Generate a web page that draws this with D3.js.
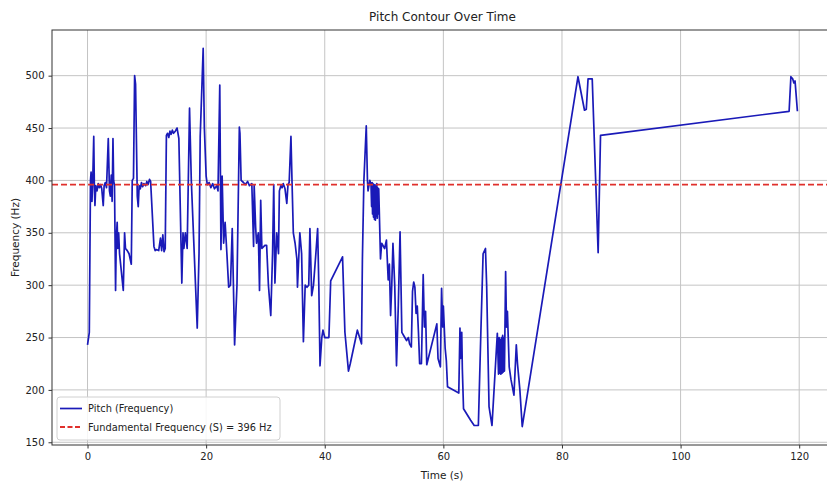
<!DOCTYPE html>
<html>
<head>
<meta charset="utf-8">
<script src="https://cdn.jsdelivr.net/npm/d3@7"></script>
<style>
  body { margin: 0; background: #fff; }
  text { font-family: "DejaVu Sans", sans-serif; fill: #222; }
</style>
</head>
<body>
<svg id="chart"></svg>
<script>
// [time (s), pitch (Hz)]
const contour = [
  [0.0, 243], [0.3, 255], [0.5, 400], [0.6, 408], [0.75, 380], [0.9, 405], [1.05, 442], [1.15, 395], [1.25, 376], [1.4, 395],
  [1.6, 390], [1.8, 397], [2.0, 393], [2.2, 396], [2.4, 392], [2.65, 376], [2.8, 395], [3.0, 398], [3.2, 393], [3.5, 440],
  [3.7, 390], [3.85, 385], [4.0, 405], [4.15, 380], [4.29, 440], [4.4, 400], [4.55, 395], [4.73, 295], [4.85, 345], [5.0, 360],
  [5.1, 335], [5.25, 350], [5.4, 330], [6.03, 295], [6.25, 350], [6.4, 335], [6.7, 333], [7.0, 330], [7.38, 320], [7.54, 400],
  [7.75, 402], [7.94, 500], [8.1, 492], [8.39, 385], [8.55, 375], [8.7, 395], [8.9, 392], [9.1, 398], [9.3, 394], [9.5, 397],
  [9.8, 395], [10.0, 399], [10.2, 396], [10.45, 401], [10.64, 399], [11.2, 337], [11.4, 333], [11.6, 334], [12.0, 333], [12.3, 345],
  [12.5, 333], [12.7, 348], [12.9, 332], [13.1, 335], [13.3, 443], [13.5, 445], [13.7, 441], [13.9, 447], [14.1, 444], [14.3, 448],
  [14.5, 445], [14.8, 447], [15.1, 450], [15.4, 440], [15.9, 302], [16.1, 350], [16.25, 335], [16.5, 350], [16.8, 335], [17.2, 469],
  [17.5, 400], [18.5, 259], [18.8, 330], [19.0, 442], [19.5, 526], [19.7, 450], [20.0, 404], [20.2, 396], [20.5, 398], [20.8, 393],
  [21.1, 397], [21.4, 392], [21.8, 395], [22.0, 390], [22.3, 491], [22.5, 334], [22.7, 404], [22.95, 340], [23.2, 360], [23.5, 330],
  [23.8, 298], [24.1, 300], [24.4, 354], [24.6, 300], [24.8, 243], [25.2, 300], [25.6, 451], [25.7, 445], [25.9, 400], [26.3, 398],
  [26.6, 396], [27.0, 399], [27.3, 395], [27.7, 397], [28.0, 337], [28.1, 395], [28.35, 355], [28.5, 340], [28.8, 350], [29.0, 295],
  [29.2, 381], [29.4, 335], [29.9, 338], [30.2, 338], [30.5, 300], [30.9, 271], [31.2, 330], [31.4, 396], [31.6, 302], [31.9, 350],
  [32.2, 330], [32.35, 390], [32.6, 395], [32.8, 393], [33.0, 397], [33.3, 392], [33.6, 378], [33.8, 396], [34.0, 398], [34.3, 442],
  [34.5, 395], [34.7, 350], [35.0, 340], [35.3, 325], [35.4, 298], [35.8, 350], [36.1, 330], [36.4, 246], [36.7, 300], [37.0, 298],
  [37.3, 300], [37.5, 354], [37.8, 290], [38.1, 300], [38.5, 330], [38.8, 354], [39.0, 300], [39.2, 223], [39.5, 250], [39.7, 257],
  [40.0, 250], [40.7, 250], [41.0, 304], [43.0, 327], [43.4, 255], [44.0, 218], [44.3, 225], [45.5, 257], [46.2, 244], [46.35, 325],
  [46.6, 400], [47.0, 452], [47.2, 400], [47.3, 390], [47.6, 400], [47.8, 396], [47.9, 375], [47.98, 398], [48.06, 368], [48.14, 397],
  [48.22, 365], [48.3, 395], [48.38, 363], [48.46, 396], [48.54, 362], [48.62, 394], [48.7, 366], [48.78, 397], [48.86, 364], [48.94, 393],
  [49.02, 368], [49.1, 392], [49.2, 370], [49.4, 325], [49.6, 340], [50.1, 335], [50.4, 343], [50.7, 305], [50.9, 320], [51.1, 271],
  [51.3, 300], [51.5, 340], [51.8, 300], [52.1, 223], [52.4, 280], [52.7, 351], [53.0, 255], [53.5, 250], [53.8, 247], [54.1, 250],
  [54.3, 244], [54.6, 241], [54.8, 294], [55.0, 303], [55.2, 298], [55.4, 273], [55.6, 280], [55.8, 255], [56.0, 225], [56.3, 225],
  [56.6, 310], [56.8, 260], [57.0, 275], [57.2, 224], [58.9, 263], [59.1, 230], [59.5, 222], [59.7, 297], [59.9, 260], [60.0, 280],
  [60.3, 240], [60.5, 228], [60.7, 203], [62.6, 197], [62.8, 259], [62.9, 230], [63.1, 255], [63.2, 220], [63.4, 182], [64.6, 171],
  [65.2, 166], [65.9, 166], [66.3, 250], [66.7, 330], [67.1, 335], [67.3, 300], [67.7, 184], [68.2, 166], [69.1, 254], [69.3, 215],
  [69.4, 250], [69.5, 216], [69.6, 248], [69.7, 215], [69.8, 250], [69.9, 216], [70.0, 252], [70.1, 217], [70.2, 250], [70.3, 218],
  [70.5, 313], [70.65, 260], [70.8, 275], [71.1, 222], [71.4, 210], [71.9, 195], [72.3, 243], [72.5, 225], [72.9, 200], [73.3, 165],
  [82.7, 499], [83.8, 467], [84.1, 468], [84.4, 497], [85.1, 497], [86.1, 331], [86.5, 443], [118.3, 466], [118.6, 499], [118.9, 497],
  [119.1, 493], [119.3, 495], [119.7, 466]
];
const fundamental = 396;
const xTicks = [0, 20, 40, 60, 80, 100, 120];
const yTicks = [150, 200, 250, 300, 350, 400, 450, 500];
const legendLabels = ["Pitch (Frequency)", "Fundamental Frequency (S) = " + fundamental + " Hz"];

const W = 827, H = 482;
const margin = { left: 52, top: 30, right: -6, bottom: 37 };
const width = W - margin.left - margin.right;
const height = H - margin.top - margin.bottom;
const pitchColor = "#1a1ab8";
const fundColor = "#e0302c";

const svg = d3.select("#chart").attr("width", W).attr("height", H);

const x = d3.scaleLinear().domain([-5.99, 125.7]).range([margin.left, margin.left + width]);
const y = d3.scaleLinear().domain([147.4, 543.6]).range([margin.top + height, margin.top]);

svg.append("defs").append("clipPath").attr("id", "clip")
  .append("rect")
  .attr("x", margin.left).attr("y", margin.top)
  .attr("width", width).attr("height", height);

// grid
const grid = svg.append("g");
grid.selectAll(".gx").data(xTicks).join("line")
  .attr("x1", d => x(d)).attr("x2", d => x(d))
  .attr("y1", margin.top).attr("y2", margin.top + height)
  .attr("stroke", "#c4c4c4").attr("stroke-width", 1);
grid.selectAll(".gy").data(yTicks).join("line")
  .attr("x1", margin.left).attr("x2", margin.left + width)
  .attr("y1", d => y(d)).attr("y2", d => y(d))
  .attr("stroke", "#c4c4c4").attr("stroke-width", 1);

// pitch line
const line = d3.line().x(d => x(d[0])).y(d => y(d[1]));

const plot = svg.append("g").attr("clip-path", "url(#clip)");
plot.append("path")
  .datum(contour)
  .attr("d", line)
  .attr("fill", "none")
  .attr("stroke", pitchColor)
  .attr("stroke-width", 1.7)
  .attr("stroke-linejoin", "round");

plot.append("line")
  .attr("x1", margin.left).attr("x2", margin.left + width)
  .attr("y1", y(fundamental)).attr("y2", y(fundamental))
  .attr("stroke", fundColor).attr("stroke-width", 1.8)
  .attr("stroke-dasharray", "6,3");

// frame
svg.append("rect")
  .attr("x", margin.left).attr("y", margin.top)
  .attr("width", width).attr("height", height)
  .attr("fill", "none").attr("stroke", "#333").attr("stroke-width", 1);

// axes
const xAxis = svg.append("g")
  .attr("transform", `translate(0,${margin.top + height})`)
  .call(d3.axisBottom(x).tickValues(xTicks).tickSize(3.5).tickPadding(4));
const yAxis = svg.append("g")
  .attr("transform", `translate(${margin.left},0)`)
  .call(d3.axisLeft(y).tickValues(yTicks).tickSize(3.5).tickPadding(4));
[xAxis, yAxis].forEach(a => {
  a.select(".domain").remove();
  a.selectAll("line").attr("stroke", "#333");
  a.selectAll("text").style("font-family", "DejaVu Sans").style("font-size", "10px").attr("fill", "#222");
});

// labels
svg.append("text")
  .attr("x", x((-5.99 + 125.7) / 2)).attr("y", 21)
  .attr("text-anchor", "middle").style("font-size", "12px")
  .text("Pitch Contour Over Time");
svg.append("text")
  .attr("x", 442).attr("y", 479)
  .attr("text-anchor", "middle").style("font-size", "10.5px")
  .text("Time (s)");
svg.append("text")
  .attr("transform", `translate(19,${margin.top + height / 2}) rotate(-90)`)
  .attr("text-anchor", "middle").style("font-size", "10.5px")
  .text("Frequency (Hz)");

// legend
const lg = svg.append("g");
lg.append("rect")
  .attr("x", 57).attr("y", 397).attr("width", 223).attr("height", 43)
  .attr("rx", 3).attr("fill", "#fff").attr("fill-opacity", 0.85)
  .attr("stroke", "#d0d0d0");
lg.selectAll(".item").data(legendLabels).join("g")
  .attr("transform", (d, i) => `translate(60,${408.5 + i * 18.5})`)
  .each(function (d, i) {
    const g = d3.select(this);
    g.append("line").attr("x1", 0).attr("x2", 22)
      .attr("stroke", i === 0 ? pitchColor : fundColor)
      .attr("stroke-width", i === 0 ? 1.7 : 1.8)
      .attr("stroke-dasharray", i === 0 ? null : "5,2.5");
    g.append("text").attr("x", 28).attr("y", 3.5)
      .style("font-size", "9.8px").text(d);
  });
</script>
</body>
</html>
